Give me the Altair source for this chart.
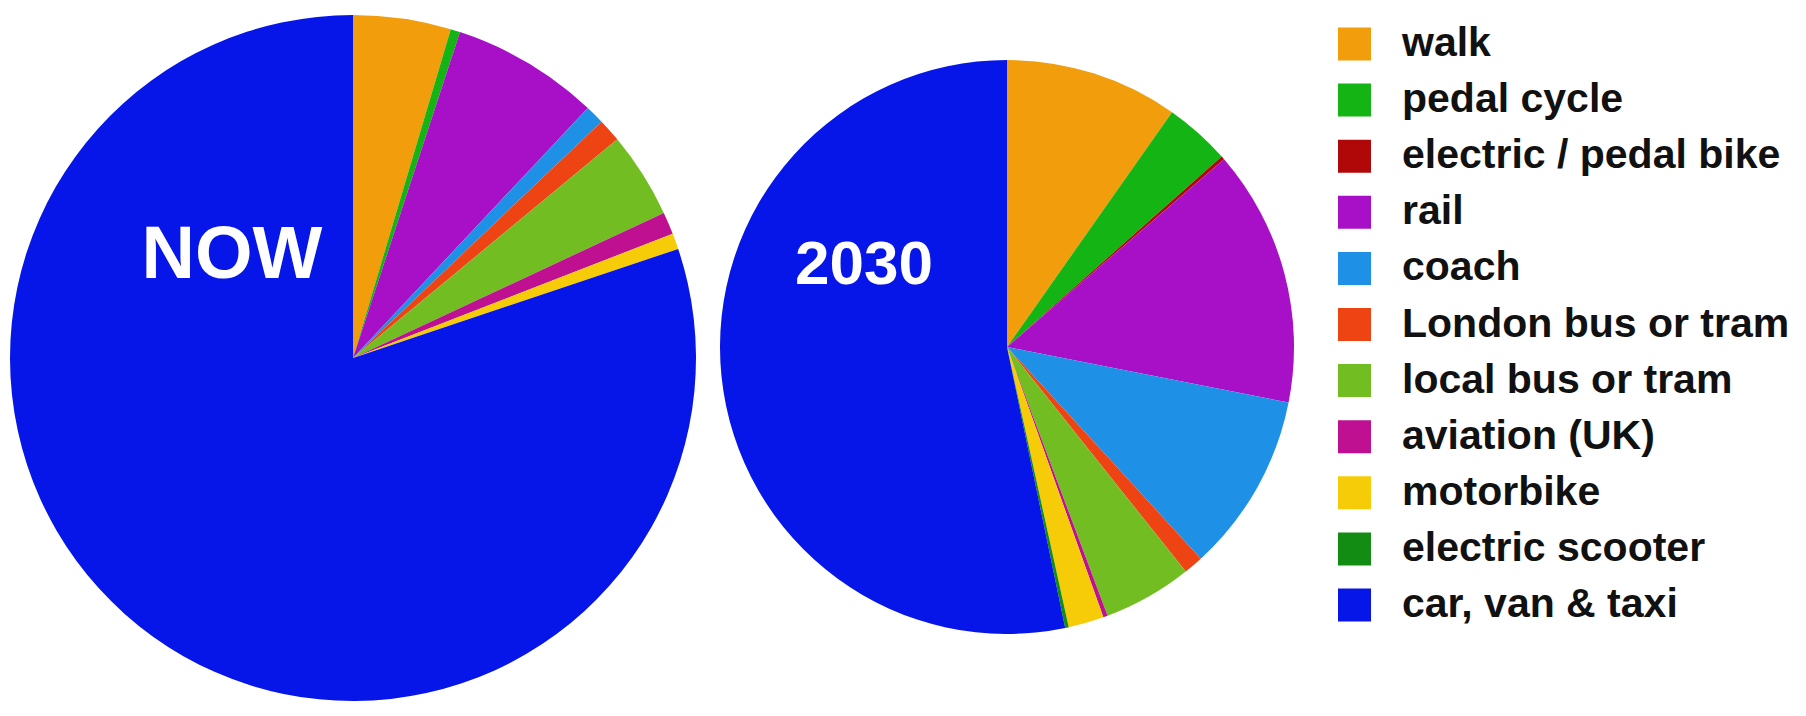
import altair as alt
import pandas as pd

categories = ["walk", "pedal cycle", "electric / pedal bike", "rail", "coach",
              "London bus or tram", "local bus or tram", "aviation (UK)",
              "motorbike", "electric scooter", "car, van & taxi"]
colors = ["#F29E0C", "#14B414", "#B00808", "#A810C8", "#1E90E6",
          "#EE4414", "#72BE22", "#BE1090", "#F6CC08", "#128C12", "#0616E8"]
now_values = [4.6, 0.45, 0.0, 6.95, 0.9, 1.1, 4.05, 1.05, 0.75, 0.0, 80.15]
y2030_values = [9.75, 3.7, 0.2, 14.45, 10.1, 1.1, 5.0, 0.25, 2.0, 0.2, 53.25]
pie_labels = ["NOW", "2030"]

df_now = pd.DataFrame({"category": categories, "value": now_values,
                       "idx": list(range(len(categories)))})
df_2030 = pd.DataFrame({"category": categories, "value": y2030_values,
                        "idx": list(range(len(categories)))})

color = alt.Color(
    "category:N",
    scale=alt.Scale(domain=categories, range=colors),
    legend=alt.Legend(
        title=None, orient="none", legendX=1326, legendY=15.5,
        symbolType="square", symbolSize=1089, symbolStrokeWidth=0,
        symbolOpacity=1, labelFontSize=41, labelFont="Liberation Sans",
        labelFontWeight="bold", labelColor="#111111", rowPadding=14.1,
        labelOffset=27, padding=0, labelLimit=600,
    ),
)

now_arc = alt.Chart(df_now).mark_arc(radius=343, strokeWidth=0).encode(
    theta=alt.Theta("value:Q", stack=True),
    color=color,
    order=alt.Order("idx:Q"),
    x=alt.value(345), y=alt.value(350),
)
y30_arc = alt.Chart(df_2030).mark_arc(radius=287, strokeWidth=0).encode(
    theta=alt.Theta("value:Q", stack=True),
    color=color,
    order=alt.Order("idx:Q"),
    x=alt.value(999), y=alt.value(339),
)

now_text = alt.Chart(pd.DataFrame({"label": [pie_labels[0]]})).mark_text(
    font="Liberation Sans", fontWeight="bold", fontSize=74, color="white",
    align="center", baseline="middle",
).encode(text="label:N", x=alt.value(224), y=alt.value(248))

y30_text = alt.Chart(pd.DataFrame({"label": [pie_labels[1]]})).mark_text(
    font="Liberation Sans", fontWeight="bold", fontSize=62, color="white",
    align="center", baseline="middle",
).encode(text="label:N", x=alt.value(856), y=alt.value(257))

chart = alt.layer(now_arc, y30_arc, now_text, y30_text).properties(
    width=1790, height=708, autosize="none", padding=0,
).configure_view(stroke=None)

chart.save("out.html", embed_options={"renderer": "svg", "actions": False})
